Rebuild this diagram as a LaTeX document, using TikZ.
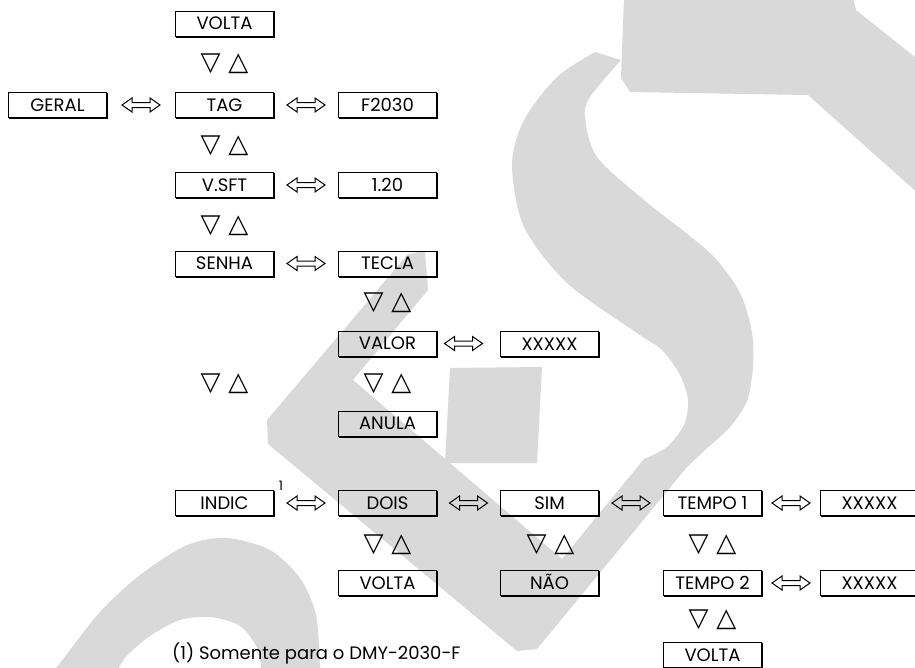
\documentclass[tikz,border=0pt]{standalone}
\usepackage{fontspec}
\setmainfont{Poppins}
\newfontfamily\symf{DejaVu Sans}
\usetikzlibrary{calc}
\definecolor{wm}{RGB}{217,217,217}
\newcommand\dblarr[3][0pt]{%
  \path let \p1=(#2.east), \p2=(#3.west) in coordinate (m) at ({(\x1+\x2)/2+#1},\y1);
  \draw[arrline] (m) ++(-19pt,0pt) -- ++(10pt,7pt) -- ++(0pt,-4.5pt) -- ++(18pt,0pt) -- ++(0pt,4.5pt)
    -- ++(10pt,-7pt) -- ++(-10pt,-7pt) -- ++(0pt,4.5pt) -- ++(-18pt,0pt) -- ++(0pt,-4.5pt) -- cycle;}
\begin{document}
\begin{tikzpicture}[x=1pt,y=-1pt,
  box/.style={draw, line width=0.9pt, minimum width=98pt, minimum height=25pt, inner sep=0pt,
    text height=12.5pt, text depth=0pt, font=\fontsize{18}{18}\selectfont},
  tri/.style={font=\symf\fontsize{26}{26}\selectfont, inner sep=0pt},
  arrline/.style={draw, line width=1pt, line join=miter},
  shad/.style={line width=0.9pt}]
\useasboundingbox (0,0) rectangle (915,667);
% watermark
\fill[wm] (624,-2) -- (621,78) -- (630,92) -- (808,95) -- (930,204) -- (930,69) -- (856,10) -- (853,-2) -- cycle;
\fill[wm] (267,420) -- (408,254) -- (425,251) -- (428,290) -- (353,380) -- (562,559) -- (644,459)
  -- plot[smooth] coordinates {(644,459) (667,447) (684,425) (688,400) (680,375) (662,350) (637,333) (567,283) (524,227) (512,165) (524,120) (557,77) (595,52)}
  -- (621,60)
  -- plot[smooth] coordinates {(621,60) (590,97) (585,118) (597,157) (644,200) (710,253) (740,293) (752,333) (753,367) (747,401) (730,427) (704,451) (687,467)}
  -- (537,649) -- (517,651) -- (268,444) -- cycle;
\fill[wm] (450,368) -- (542,367) -- (537,463) -- (445,463) -- cycle;
\fill[wm] plot[smooth] coordinates {(45,682) (57,667) (100,612) (140,575) (187,545) (227,538) (270,550) (300,578) (316,615) (320,667) (321,682)}
  -- (262,682)
  -- plot[smooth] coordinates {(262,682) (258,650) (240,626) (210,617) (180,620) (150,636) (125,658) (112,682)} -- cycle;
% boxes
\node[box] (volta0) at (224.5,23.5) {VOLTA};
\node[box] (geral) at (57.5,105) {GERAL};
\node[box] (tag) at (224.5,105) {TAG};
\node[box] (f2030) at (387.5,105) {F2030};
\node[box] (vsft) at (224.5,185) {V.SFT};
\node[box] (v120) at (387.5,185) {1.20};
\node[box] (senha) at (224.5,263.5) {SENHA};
\node[box] (tecla) at (387.5,263.5) {TECLA};
\node[box] (valor) at (387.5,343.5) {VALOR};
\node[box] (xa) at (549.5,344) {XXXXX};
\node[box] (anula) at (387.5,423.5) {ANULA};
\node[box] (indic) at (224.5,503) {INDIC};
\node[box] (dois) at (387.5,503) {DOIS};
\node[box] (sim) at (549.5,503) {SIM};
\node[box] (tempo1) at (712.5,503) {TEMPO 1};
\node[box] (xb) at (869.5,503) {XXXXX};
\node[box] (volta1) at (387.5,583) {VOLTA};
\node[box] (nao) at (549.5,583) {NÃO};
\node[box] (tempo2) at (712.5,583) {TEMPO 2};
\node[box] (xc) at (869.5,583) {XXXXX};
\node[box] (volta2) at (712.5,655) {VOLTA};
\foreach \n in {volta0,geral,tag,f2030,vsft,v120,senha,tecla,valor,xa,anula,indic,dois,sim,tempo1,xb,volta1,nao,tempo2,xc,volta2}
  \draw[shad] ([shift={(0.9,0.9)}]\n.north east) -- ([shift={(0.9,0.9)}]\n.south east) -- ([shift={(0.9,0.9)}]\n.south west);
% up/down markers
\node[tri] (t1) at (224.5,64) {▽\hspace{8pt}△};
\node[tri] (t2) at (224.5,146) {▽\hspace{8pt}△};
\node[tri] (t3) at (224.5,226) {▽\hspace{8pt}△};
\node[tri] (t4) at (387.5,303) {▽\hspace{8pt}△};
\node[tri] (t5) at (224.5,384) {▽\hspace{8pt}△};
\node[tri] (t6) at (387.5,384) {▽\hspace{8pt}△};
\node[tri] (t7) at (387.5,545) {▽\hspace{8pt}△};
\node[tri] (t8) at (550.5,545) {▽\hspace{8pt}△};
\node[tri] (t9) at (712.5,545) {▽\hspace{8pt}△};
\node[tri] (t10) at (712.5,620) {▽\hspace{8pt}△};
% double arrows
\dblarr{geral}{tag}
\dblarr{tag}{f2030}
\dblarr{vsft}{v120}
\dblarr{senha}{tecla}
\dblarr[-5pt]{valor}{xa}
\dblarr{indic}{dois}
\dblarr{dois}{sim}
\dblarr{sim}{tempo1}
\dblarr{tempo1}{xb}
\dblarr[0pt]{tempo2}{xc}
% note
\node[font=\fontsize{13}{13}\selectfont, inner sep=0pt] (sup1) at (281,486) {1};
\node[anchor=base west, font=\fontsize{18}{18}\selectfont, inner sep=0pt] (note) at (172,659) {(1) Somente para o DMY-2030-F};
\end{tikzpicture}
\end{document}
